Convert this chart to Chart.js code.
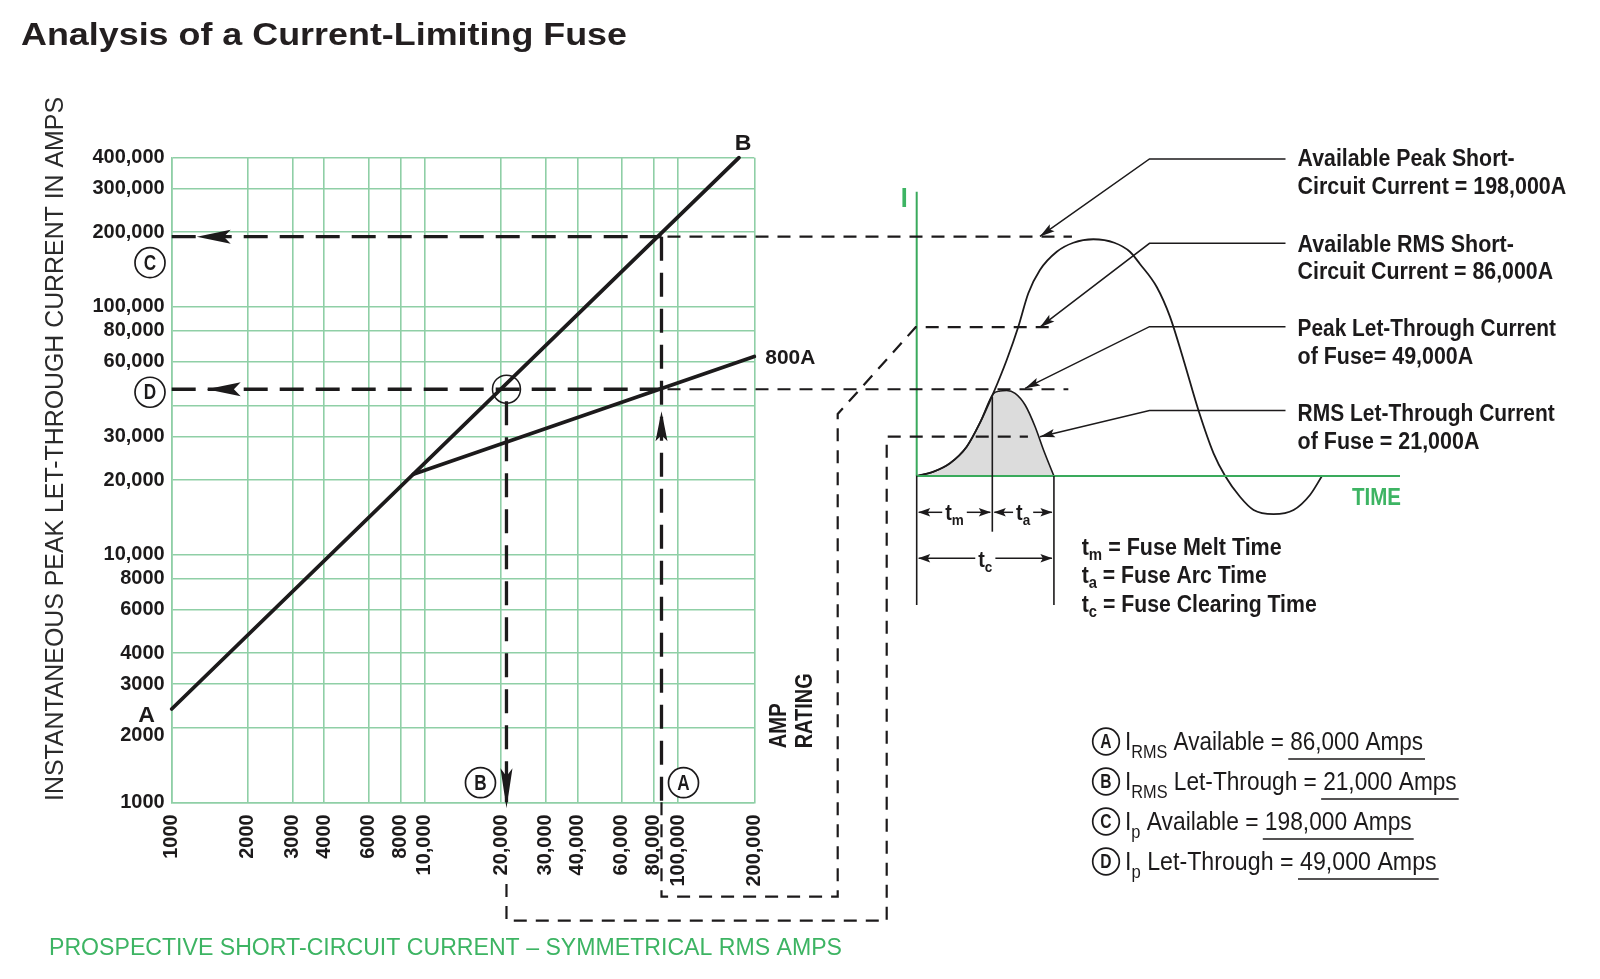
<!DOCTYPE html>
<html><head><meta charset="utf-8">
<script src="https://cdn.jsdelivr.net/npm/chart.js@4.4.1/dist/chart.umd.min.js"></script>
<style>
html,body{margin:0;padding:0;background:#fff;}
#wrap{position:relative;width:1600px;height:979px;overflow:hidden;background:#fff;}
#wrap canvas{position:absolute;left:0;top:0;}
</style></head><body>
<div id="wrap"><canvas id="c1" width="1600" height="979"></canvas><canvas id="c2" width="1600" height="979"></canvas></div>
<script>
// ---------------- DATA ----------------
const prospectiveTicks = [1000,2000,3000,4000,6000,8000,10000,20000,30000,40000,60000,80000,100000,200000];
const prospectiveTickLabels = ['1000','2000','3000','4000','6000','8000','10,000','20,000','30,000','40,000','60,000','80,000','100,000','200,000'];
const peakTicks = [1000,2000,3000,4000,6000,8000,10000,20000,30000,40000,60000,80000,100000,200000,300000,400000];
const peakTickLabels = ['1000',['','2000'],'3000','4000','6000','8000','10,000','20,000','30,000','','60,000','80,000','100,000','200,000','300,000','400,000'];

// unlimited peak current line A -> B
const lineABx = [1000, 174000];
const lineABy = [2380, 400000];
// 800A fuse let-through line
const fuse800x = [9000, 200000];
const fuse800y = [21100, 63000];

// analysis values as drawn on the chart
const irmsAvailable = 86000;   // A
const irmsLetThrough = 21000;  // B
const ipAvailable = 192000;    // C
const ipLetThrough = 46500;    // D

// right-hand waveform diagram (schematic units)
const waveTime    = [0,0.42,0.83,1.25,1.58,1.915,2.25,2.54,2.79,3.08,3.5,3.915,4.415,4.94,5.33,5.58,6.0,6.33,6.67,7.04,7.42,7.71,8.08,8.42,8.92,9.42,9.83,10.13];
const waveCurrent = [0,3.6,10.6,24.4,44.2,69,96.7,124.4,152.3,171.7,186.9,194.4,197.3,194.4,186.9,176.7,157.5,132.8,96.7,55,18.9,0,-17.3,-28.3,-31.7,-28.3,-15.8,0];
const letTime     = [0,0.42,0.83,1.25,1.58,1.915,2.08,2.25,2.46,2.71,2.96,3.17,3.43];
const letCurrent  = [0,3.6,10.6,24.4,44.2,68.5,70.8,71.25,68.9,59.2,41.1,21.7,0];
const fuseTimes   = [1.89, 3.43];            // end of melt, end of clearing
const levelValues = [198, 124, 71, 32.8];    // peak avail, rms avail, peak let-through, rms let-through
const levelDashEnd = [3.88, 3.33, 3.79, 2.78];
const leaderTipTime = [3.08, 3.08, 2.71, 3.08];

const noteLine1 = ['Available Peak Short-','Available RMS Short-','Peak Let-Through Current','RMS Let-Through Current'];
const noteLine2 = ['Circuit Current = 198,000A','Circuit Current = 86,000A','of Fuse= 49,000A','of Fuse = 21,000A'];
const legendLetters = ['A','B','C','D'];
const legendSub = ['RMS','RMS','p','p'];
const legendText = [' Available = ',' Let-Through = ',' Available = ',' Let-Through = '];
const legendValues = ['86,000 Amps','21,000 Amps','198,000 Amps','49,000 Amps'];
const defSub = ['m','a','c'];
const defText = [' = Fuse Melt Time',' = Fuse Arc Time',' = Fuse Clearing Time'];

// ---------------- STYLE ----------------
const FONT = "'Liberation Sans', Arial, Helvetica, sans-serif";
const INK = '#1c1a1b';
const GRID = '#8fcfa6';
const GREEN = '#3aaa5c';
const GREEN_TXT = '#3db463';
Chart.defaults.font.family = FONT;

function drawText(ctx, s, x, y, o) {
  ctx.save();
  ctx.font = (o.weight||'normal') + ' ' + o.size + 'px ' + FONT;
  ctx.fillStyle = o.color || INK;
  ctx.textBaseline = o.baseline || 'alphabetic';
  ctx.textAlign = 'left';
  const w = ctx.measureText(s).width;
  const sx = o.w ? o.w / w : (o.sx || 1);
  ctx.translate(x, y);
  if (o.rot) ctx.rotate(o.rot);
  ctx.scale(sx, 1);
  let ax = 0;
  if (o.align === 'center') ax = -w/2; else if (o.align === 'right') ax = -w;
  ctx.fillText(s, ax, 0);
  ctx.restore();
  return w * sx;
}
function richWidths(ctx, parts) {
  return parts.map(p => { ctx.font = (p.weight||'normal') + ' ' + p.size + 'px ' + FONT; return ctx.measureText(p.t).width; });
}
function drawRich(ctx, parts, x, y, targetEnd, sxFixed) {
  ctx.save();
  const ws = richWidths(ctx, parts);
  const total = ws.reduce((a,b)=>a+b,0);
  const sx = targetEnd ? (targetEnd - x) / total : (sxFixed || 1);
  let cx = x; const spans = [];
  parts.forEach((p,i) => {
    ctx.font = (p.weight||'normal') + ' ' + p.size + 'px ' + FONT;
    ctx.fillStyle = p.color || INK; ctx.textBaseline = 'alphabetic'; ctx.textAlign = 'left';
    ctx.save(); ctx.translate(cx, y + (p.dy||0)); ctx.scale(sx, 1); ctx.fillText(p.t, 0, 0); ctx.restore();
    spans.push([cx, cx + ws[i]*sx]); cx += ws[i]*sx;
  });
  ctx.restore();
  return spans;
}
function arrowHead(ctx, tx, ty, dx, dy, len, half, notch) {
  const n = Math.hypot(dx, dy); dx /= n; dy /= n;
  const bx = tx - dx*len, by = ty - dy*len, nx = -dy, ny = dx;
  const k = notch == null ? 0.8 : notch;
  ctx.save(); ctx.setLineDash([]); ctx.fillStyle = INK;
  ctx.beginPath(); ctx.moveTo(tx, ty);
  ctx.lineTo(bx + nx*half, by + ny*half);
  ctx.lineTo(tx - dx*len*k, ty - dy*len*k);
  ctx.lineTo(bx - nx*half, by - ny*half);
  ctx.closePath(); ctx.fill(); ctx.restore();
}
function poly(ctx, pts) {
  ctx.beginPath(); ctx.moveTo(pts[0][0], pts[0][1]);
  for (let i = 1; i < pts.length; i++) ctx.lineTo(pts[i][0], pts[i][1]);
  ctx.stroke();
}
function circled(ctx, x, y, r, letter, size) {
  ctx.save(); ctx.setLineDash([]); ctx.lineWidth = 1.7; ctx.strokeStyle = INK; ctx.fillStyle = '#fff';
  ctx.beginPath(); ctx.arc(x, y, r, 0, Math.PI*2); ctx.fill(); ctx.stroke();
  drawText(ctx, letter, x, y + 1, {size: size, weight: 'bold', align: 'center', baseline: 'middle', sx: 0.78});
  ctx.restore();
}

// ---------------- MAIN LOG-LOG CHART ----------------
const mainDecor = {
  id: 'mainDecor',
  beforeDraw(chart) { const c = chart.ctx; c.save(); c.fillStyle = '#fff'; c.fillRect(0,0,chart.width,chart.height); c.restore(); },
  afterDraw(chart) {
    const ctx = chart.ctx, sx = chart.scales.x, sy = chart.scales.y, ca = chart.chartArea;
    const xA = sx.getPixelForValue(irmsAvailable), xB = sx.getPixelForValue(irmsLetThrough);
    const yC = sy.getPixelForValue(ipAvailable), yD = sy.getPixelForValue(ipLetThrough);
    ctx.save();
    drawText(ctx, 'Analysis of a Current-Limiting Fuse', 21, 45, {size: 32, weight: 'bold', w: 606, color: '#231f20'});
    drawText(ctx, 'INSTANTANEOUS PEAK LET-THROUGH CURRENT IN AMPS', 56, 449, {size: 25, w: 704, align: 'center', baseline: 'middle', rot: -Math.PI/2, color: '#2b2b2b'});
    drawText(ctx, 'PROSPECTIVE SHORT-CIRCUIT CURRENT \u2013 SYMMETRICAL RMS AMPS', 49, 955, {size: 23, w: 793, color: GREEN_TXT});
    // arrowheads on the guide lines
    arrowHead(ctx, ca.left + 25, yC, -1, 0, 34, 7);
    arrowHead(ctx, ca.left + 35, yD, -1, 0, 34, 7);
    arrowHead(ctx, xB, ca.bottom + 6, 0, 1, 40, 6);
    arrowHead(ctx, xA, yD + 22, 0, -1, 30, 6);
    // circled markers
    circled(ctx, 150, yC + 26, 15, 'C', 22);
    circled(ctx, 150, yD + 3, 15, 'D', 22);
    circled(ctx, xB - 26, 782.7, 15, 'B', 22);
    circled(ctx, xA + 22, 782.7, 15, 'A', 22);
    ctx.beginPath(); ctx.arc(xB, yD, 14, 0, Math.PI*2); ctx.lineWidth = 1.5; ctx.strokeStyle = INK; ctx.stroke();
    // end labels
    const aX = sx.getPixelForValue(lineABx[0]), aY = sy.getPixelForValue(lineABy[0]);
    const bX = sx.getPixelForValue(lineABx[1]), bY = sy.getPixelForValue(lineABy[1]);
    drawText(ctx, 'A', aX - 25, aY + 12.5, {size: 22, weight: 'bold', align: 'center', sx: 1.05});
    drawText(ctx, 'B', bX + 4, bY - 8, {size: 22, weight: 'bold', align: 'center', sx: 1.05});
    const eX = sx.getPixelForValue(fuse800x[1]), eY = sy.getPixelForValue(fuse800y[1]);
    drawText(ctx, '800A', eX + 11, eY + 7, {size: 21, weight: 'bold', w: 50});
    drawText(ctx, 'AMP', 780, 748.3, {size: 23, weight: 'bold', w: 45, baseline: 'middle', rot: -Math.PI/2});
    drawText(ctx, 'RATING', 805.5, 748.3, {size: 23, weight: 'bold', w: 75, baseline: 'middle', rot: -Math.PI/2});
    ctx.restore();
  }
};

const pts = (xs, ys) => xs.map((x, i) => ({x: x, y: ys[i]}));
const solid = {borderColor: INK, pointRadius: 0, fill: false, clip: false, borderCapStyle: 'round'};
const heavyDash = {borderColor: INK, pointRadius: 0, fill: false, clip: false, borderWidth: 3.3, borderDash: [24, 12], borderCapStyle: 'butt'};

const mainChart = new Chart(document.getElementById('c1'), {
  type: 'line',
  data: {datasets: [
    Object.assign({label: 'A-B', data: pts(lineABx, lineABy), borderWidth: 3.8}, solid),
    Object.assign({label: '800A', data: pts(fuse800x, fuse800y), borderWidth: 3.8}, solid),
    Object.assign({label: 'C', data: [{x: 1000, y: ipAvailable}, {x: irmsAvailable, y: ipAvailable}]}, heavyDash),
    Object.assign({label: 'D', data: [{x: 1000, y: ipLetThrough}, {x: irmsAvailable, y: ipLetThrough}]}, heavyDash),
    Object.assign({label: 'A', data: [{x: irmsAvailable, y: ipAvailable}, {x: irmsAvailable, y: 1000}]}, heavyDash),
    Object.assign({label: 'B', data: [{x: irmsLetThrough, y: ipLetThrough}, {x: irmsLetThrough, y: 1000}], borderDashOffset: 24}, heavyDash)
  ]},
  options: {
    responsive: false, animation: false, devicePixelRatio: 1,
    layout: {padding: {left: 71.7, top: 157.7, right: 845.7, bottom: 76.7}},
    plugins: {legend: {display: false}, tooltip: {enabled: false}},
    elements: {line: {tension: 0}},
    scales: {
      x: {type: 'logarithmic', min: 1000, max: 200000,
        afterBuildTicks: ax => { ax.ticks = prospectiveTicks.map(v => ({value: v})); },
        afterFit: ax => { ax.height = 100; },
        grid: {color: GRID, lineWidth: 1.6, drawTicks: false},
        border: {color: GRID, width: 1.6},
        ticks: {autoSkip: false, minRotation: 90, maxRotation: 90, padding: 12, color: INK,
          font: {family: FONT, weight: 'bold', size: 20},
          callback: (v, i) => prospectiveTickLabels[i]}},
      y: {type: 'logarithmic', min: 1000, max: 400000,
        afterBuildTicks: ax => { ax.ticks = peakTicks.map(v => ({value: v})); },
        afterFit: ax => { ax.width = 100; },
        grid: {color: GRID, lineWidth: 1.6, drawTicks: false},
        border: {color: GRID, width: 1.6},
        ticks: {autoSkip: false, padding: 7, color: INK,
          font: {family: FONT, weight: 'bold', size: 20, lineHeight: 0.8},
          callback: (v, i) => peakTickLabels[i]}}
    }
  },
  plugins: [mainDecor]
});

// ---------------- RIGHT WAVEFORM DIAGRAM ----------------
const diagramDecor = {
  id: 'diagramDecor',
  afterDraw(chart) {
    const ctx = chart.ctx;
    const X = v => chart.scales.x.getPixelForValue(v), Y = v => chart.scales.y.getPixelForValue(v);
    const m = mainChart;
    const xA = m.scales.x.getPixelForValue(irmsAvailable), xB = m.scales.x.getPixelForValue(irmsLetThrough);
    const yC = m.scales.y.getPixelForValue(ipAvailable), yD = m.scales.y.getPixelForValue(ipLetThrough);
    const bot = m.chartArea.bottom;
    ctx.save();
    // thin dashed connectors
    ctx.strokeStyle = INK; ctx.lineWidth = 2.2; ctx.setLineDash([13, 9]); ctx.lineCap = 'butt';
    poly(ctx, [[xA + 6, yC], [X(levelDashEnd[0]), yC]]);
    poly(ctx, [[xA + 6, yD], [X(levelDashEnd[2]), yD]]);
    poly(ctx, [[xA, bot], [xA, 896.7], [837.7, 896.7], [837.7, 414], [X(0) - 1, Y(levelValues[1])], [X(levelDashEnd[1]), Y(levelValues[1])]]);
    poly(ctx, [[xB, 884], [xB, 920.7], [886.7, 920.7], [886.7, Y(levelValues[3])], [X(levelDashEnd[3]), Y(levelValues[3])]]);
    // leader lines + notes
    ctx.setLineDash([]); ctx.lineWidth = 1.5;
    const leaderY = [159, 243.3, 326.7, 410.5];
    const noteBase = [166, 251.5, 336.3, 421.3];
    const tipDy = [-2, 0, -2.5, 0];
    const w1 = [217, 216.3, 258.3, 257.2], w2 = [268.6, 255.5, 175.6, 181.8];
    for (let i = 0; i < 4; i++) {
      const tip = [X(leaderTipTime[i]), Y(levelValues[i]) + tipDy[i]];
      poly(ctx, [[1285.5, leaderY[i]], [1149.5, leaderY[i]], tip]);
      arrowHead(ctx, tip[0], tip[1], tip[0] - 1149.5, tip[1] - leaderY[i], 15, 4.2);
      drawText(ctx, noteLine1[i], 1297.6, noteBase[i], {size: 23, weight: 'bold', w: w1[i]});
      drawText(ctx, noteLine2[i], 1297.6, noteBase[i] + 27.5, {size: 23, weight: 'bold', w: w2[i]});
    }
    // axis labels
    drawText(ctx, 'I', X(0) - 12.5, 206.7, {size: 28, weight: 'bold', align: 'center', color: GREEN_TXT, sx: 0.9});
    drawText(ctx, 'TIME', 1352, 505, {size: 23, weight: 'bold', w: 49, color: GREEN_TXT});
    // time marks
    ctx.strokeStyle = INK; ctx.lineWidth = 1.6;
    const x0 = X(0), xm = X(fuseTimes[0]), xc = X(fuseTimes[1]);
    poly(ctx, [[x0, Y(0)], [x0, 605]]);
    poly(ctx, [[xc, Y(0)], [xc, 605]]);
    poly(ctx, [[xm, Y(66)], [xm, 531.7]]);
    const dim = (a, b, y, sub, lb) => {
      const parts = [{t: 't', size: 22, weight: 'bold'}, {t: sub, size: 15, weight: 'bold', dy: 5}];
      const ws = richWidths(ctx, parts); const tw = (ws[0] + ws[1]) * 0.9;
      const cx = (a + b) / 2;
      drawRich(ctx, parts, cx - tw/2, lb, null, 0.9);
      ctx.setLineDash([]); ctx.lineWidth = 1.5;
      poly(ctx, [[cx - tw/2 - 3, y], [a + 2, y]]);
      poly(ctx, [[cx + tw/2 + 3, y], [b - 2, y]]);
      arrowHead(ctx, a + 1.5, y, -1, 0, 12, 4.2);
      arrowHead(ctx, b - 1.5, y, 1, 0, 12, 4.2);
    };
    dim(x0, xm, 512.3, 'm', 520);
    dim(xm, xc, 512.3, 'a', 520);
    dim(x0, xc, 558.3, 'c', 566.5);
    // definitions
    const defBase = [555, 583.3, 611.7], defEnd = [1281.7, 1266.7, 1316.7];
    for (let i = 0; i < 3; i++) {
      drawRich(ctx, [{t: 't', size: 23, weight: 'bold'}, {t: defSub[i], size: 16, weight: 'bold', dy: 5}, {t: defText[i], size: 23, weight: 'bold'}], 1081.7, defBase[i], defEnd[i]);
    }
    // legend
    const legBase = [750, 790, 830, 870], legEnd = [1423, 1456.7, 1411.7, 1436.7];
    for (let i = 0; i < 4; i++) {
      circled(ctx, 1106, legBase[i] - 8.5, 13.3, legendLetters[i], 20);
      const spans = drawRich(ctx, [
        {t: 'I', size: 25}, {t: legendSub[i], size: 18, dy: 8}, {t: legendText[i], size: 25}, {t: legendValues[i], size: 25}
      ], 1125, legBase[i], legEnd[i]);
      ctx.setLineDash([]); ctx.lineWidth = 1.6; ctx.strokeStyle = INK;
      const s = spans[3];
      poly(ctx, [[s[0] - 2, legBase[i] + 9], [s[1] + 2, legBase[i] + 9]]);
    }
    ctx.restore();
  }
};

new Chart(document.getElementById('c2'), {
  type: 'line',
  data: {datasets: [
    {label: 'time axis', data: [{x: 0, y: 0}, {x: 12.08, y: 0}], borderColor: GREEN, borderWidth: 2, pointRadius: 0, clip: false, fill: false, order: 0},
    {label: 'available', data: pts(waveTime, waveCurrent), borderColor: INK, borderWidth: 1.8, pointRadius: 0, clip: false, fill: false, cubicInterpolationMode: 'monotone', order: 1},
    {label: 'let-through', data: pts(letTime, letCurrent), borderColor: INK, borderWidth: 1.6, backgroundColor: '#dcdcdc', fill: 'origin', pointRadius: 0, clip: false, cubicInterpolationMode: 'monotone', order: 2},
    {label: 'I axis', data: [{x: 0, y: 0}, {x: 0, y: 236.9}], borderColor: GREEN, borderWidth: 2, pointRadius: 0, clip: false, fill: false, order: 3}
  ]},
  options: {
    responsive: false, animation: false, devicePixelRatio: 1,
    layout: {padding: {left: 916.7, right: 200, top: 191, bottom: 459}},
    plugins: {legend: {display: false}, tooltip: {enabled: false}},
    scales: {
      x: {type: 'linear', min: 0, max: 12.08, display: false},
      y: {type: 'linear', min: -36.65, max: 237.5, display: false}
    }
  },
  plugins: [diagramDecor]
});
</script></body></html>
